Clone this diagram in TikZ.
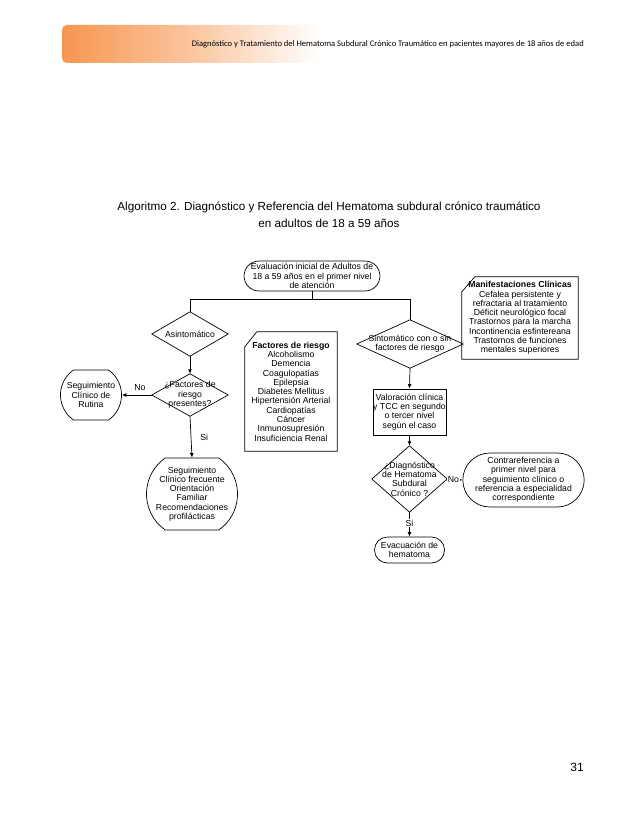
\documentclass[tikz,border=0pt]{standalone}
\usepackage{fontspec}
\setmainfont{Liberation Sans}
\newfontfamily\hdrfont{Carlito}
\usetikzlibrary{shapes.geometric,shapes.misc,arrows.meta}
\definecolor{hdrorange}{RGB}{247,150,80}
\newcommand{\diamframe}[1]{\draw[line width=0.7pt] (#1.north) -- (#1.east) -- (#1.south) -- (#1.west) -- cycle;}
\newcommand{\cardframe}[3]{\draw[line width=0.7pt] ([yshift=-#3]#1.north west) -- ([xshift=#2]#1.north west)
  -- (#1.north east) -- (#1.south east) -- (#1.south west) -- cycle;}
\begin{document}
\begin{tikzpicture}[x=1pt,y=-1pt,
  every node/.style={font=\fontsize{8.7}{9.3}\selectfont, align=center, inner sep=0pt},
  conn/.style={line width=0.7pt, draw=black},
  arr/.style={conn, -{Latex[length=4.5pt,width=3.8pt]}},
  term/.style={draw, line width=0.7pt, rounded rectangle},
  termflat/.style={draw, line width=0.7pt, rounded rectangle, rounded rectangle arc length=110},
  dec/.style={rectangle},
  proc/.style={draw, line width=0.7pt, rectangle},
  cardbox/.style={rectangle},
  lbl/.style={font=\fontsize{8.7}{9.3}\selectfont}
]
\useasboundingbox (0,0) rectangle (638,826);
\fill[white] (0,0) rectangle (638,826);

% header band
\shade[left color=hdrorange, right color=white, middle color=hdrorange!55, rounded corners=5pt]
  (62,25) rectangle (320,63);
\node[font=\hdrfont\fontsize{8.55}{9}\selectfont, anchor=east] (hdr) at (584,44)
  {Diagnóstico y Tratamiento del Hematoma Subdural Crónico Traumático en pacientes mayores de 18 años de edad};

% title
\node[font=\fontsize{11.7}{16.5}\selectfont] (title) at (329,214.5)
  {Algoritmo 2. Diagnóstico y Referencia del Hematoma subdural crónico traumático\\en adultos de 18 a 59 años};

% nodes
\node[term, minimum width=120pt, minimum height=30pt] (start) at (312,276)
  {Evaluación inicial de Adultos de\\18 a 59 años en el primer nivel\\de atención};

\node[dec, minimum width=76pt, minimum height=44pt] (asin) at (190,334) {Asintomático};
\diamframe{asin}
\node[dec, minimum width=76pt, minimum height=42pt] (fact) at (190,395) {¿Factores de\\riesgo\\presentes?};
\diamframe{fact}
\node[termflat, minimum width=58pt, minimum height=50pt] (rut) at (91,395) {Seguimiento\\Clínico de\\Rutina};
\node[termflat, minimum width=71pt, minimum height=72pt] (segf) at (192,494)
  {Seguimiento\\Clínico frecuente\\Orientación\\Familiar\\Recomendaciones\\profilácticas};

\node[cardbox, minimum width=92pt, minimum height=119pt] (frisk) at (291,391.5)
  {\textbf{Factores de riesgo}\\Alcoholismo\\Demencia\\Coagulopatías\\Epilepsia\\Diabetes Mellitus\\Hipertensión Arterial\\Cardiopatías\\Cáncer\\Inmunosupresión\\Insuficiencia Renal};
\cardframe{frisk}{12pt}{15pt}

\node[dec, minimum width=106pt, minimum height=48pt] (sint) at (410,344) {Sintomático con o sin\\factores de riesgo};
\diamframe{sint}

\node[cardbox, minimum width=116pt, minimum height=82pt] (manif) at (520,318)
  {\textbf{Manifestaciones Clínicas}\\Cefalea persistente y\\refractaria al tratamiento\\Déficit neurológico focal\\Trastornos para la marcha\\Incontinencia esfintereana\\Trastornos de funciones\\mentales superiores};
\cardframe{manif}{13pt}{15pt}

\node[proc, minimum width=73pt, minimum height=46pt] (val) at (409.5,412)
  {Valoración clínica\\y TCC en segundo\\o tercer nivel\\según el caso};
\node[dec, minimum width=75pt, minimum height=66pt] (diag) at (409.5,479)
  {¿Diagnóstico\\de Hematoma\\Subdural\\Crónico ?};
\diamframe{diag}
\node[term, minimum width=93pt, minimum height=54pt] (contra) at (523.5,480)
  {Contrareferencia a\\primer nivel para\\seguimiento clínico o\\referencia a especialidad\\correspondiente};
\node[term, minimum width=70pt, minimum height=26pt] (evac) at (409.5,550)
  {Evacuación de\\hematoma};

% connectors
\coordinate (barL) at (190,299);
\coordinate (barR) at (410,299);
\draw[conn] (start.south) -- (start.south |- barL);
\draw[conn] (barL) -- (barR);
\draw[conn] (barL) -- (asin.north);
\draw[conn] (barR) -- (sint.north);
\draw[arr] (asin.south) -- (fact.north);
\draw[arr] (fact.west) -- (rut.east) node[pos=0.4, above=4pt, lbl] (no1) {No};
\draw[arr] (fact.south) -- (segf.north) node[pos=0.5, right=9pt, lbl] (si1) {Si};
\draw[arr] (sint.south) -- (val.north);
\draw[arr] (val.south) -- (diag.north);
\draw[arr] (diag.east) -- (contra.west) node[pos=0.4, fill=white, inner sep=1pt, lbl] (no2) {No};
\draw[arr] (diag.south) -- (evac.north) node[pos=0.45, fill=white, inner sep=1pt, lbl] (si2) {Si};

% page number
\node[font=\fontsize{12}{14}\selectfont] (pg) at (577,767) {31};
\end{tikzpicture}
\end{document}
